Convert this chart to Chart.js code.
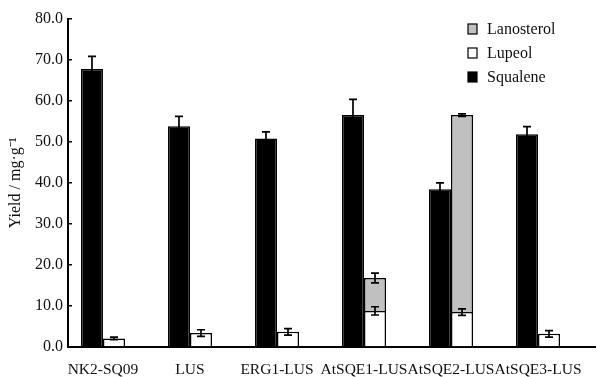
<!DOCTYPE html>
<html lang="en">
<head>
  <meta charset="UTF-8">
  <title>Yield chart</title>
  <script src="https://cdn.jsdelivr.net/npm/chart.js"></script>
  <style>
    body { margin: 0; background: #fff; }
    .chart-container { width: 597px; height: 377px; }
  </style>
</head>
<body>
  <div class="chart-container">
    <canvas id="yieldChart"></canvas>
  </div>

  <script>
    // Data (mg/g)
    const strains = ['NK2-SQ09', 'LUS', 'ERG1-LUS', 'AtSQE1-LUS', 'AtSQE2-LUS', 'AtSQE3-LUS'];
    const squalene = [67.7, 53.8, 50.8, 56.5, 38.4, 51.8];
    const squaleneErr = [3.1, 2.4, 1.6, 3.8, 1.6, 1.9];
    const lupeol = [2.1, 3.4, 3.7, 8.8, 8.5, 3.2];
    const lupeolErr = [0.3, 0.8, 0.8, 1.0, 0.8, 0.8];
    const lanosterol = [0, 0, 0, 8.0, 48.0, 0];
    const lanosterolErr = [0, 0, 0, 1.2, 0.3, 0];
    const yTicks = [0, 10, 20, 30, 40, 50, 60, 70, 80];

    const FONT = "'Liberation Serif', 'Times New Roman', serif";

    const toPoints = arr => arr.map((v, i) => ({ x: i, y: v }));

    // Error bars drawn on top of the bars
    const errorBars = {
      id: 'errorBars',
      afterDatasetsDraw(chart) {
        const ctx = chart.ctx;
        const y = chart.scales.y;
        const unit = Math.abs(y.getPixelForValue(0) - y.getPixelForValue(1));
        ctx.save();
        ctx.strokeStyle = '#000';
        ctx.lineWidth = 1.7;
        chart.data.datasets.forEach((ds, di) => {
          const meta = chart.getDatasetMeta(di);
          meta.data.forEach((bar, i) => {
            const err = ds.errors[i];
            if (!err || !ds.data[i].y) return;
            const d = err * unit;
            const cap = 4;
            ctx.beginPath();
            ctx.moveTo(bar.x, bar.y - d);
            ctx.lineTo(bar.x, bar.y + d);
            ctx.moveTo(bar.x - cap, bar.y - d);
            ctx.lineTo(bar.x + cap, bar.y - d);
            ctx.moveTo(bar.x - cap, bar.y + d);
            ctx.lineTo(bar.x + cap, bar.y + d);
            ctx.stroke();
          });
        });
        ctx.restore();
      }
    };

    // Vertical legend at the top right, reversed order
    const boxLegend = {
      id: 'boxLegend',
      afterDraw(chart) {
        const ctx = chart.ctx;
        const items = chart.data.datasets.slice().reverse();
        ctx.save();
        ctx.font = '16px ' + FONT;
        ctx.textBaseline = 'middle';
        items.forEach((ds, k) => {
          const cy = 29 + k * 24;
          ctx.fillStyle = ds.backgroundColor;
          ctx.fillRect(468, cy - 5, 9, 10);
          ctx.strokeStyle = '#000';
          ctx.lineWidth = 1.2;
          ctx.strokeRect(468, cy - 5, 9, 10);
          ctx.fillStyle = '#111';
          ctx.fillText(ds.label, 487, cy + 1);
        });
        ctx.restore();
      }
    };

    const ctx = document.getElementById('yieldChart').getContext('2d');
    new Chart(ctx, {
      type: 'bar',
      data: {
        datasets: [
          {
            label: 'Squalene',
            data: toPoints(squalene),
            errors: squaleneErr,
            stack: 'sq',
            backgroundColor: '#000',
            borderColor: '#000',
            borderWidth: 1.5
          },
          {
            label: 'Lupeol',
            data: toPoints(lupeol),
            errors: lupeolErr,
            stack: 'tri',
            backgroundColor: '#fff',
            borderColor: '#000',
            borderWidth: 1.5
          },
          {
            label: 'Lanosterol',
            data: toPoints(lanosterol),
            errors: lanosterolErr,
            stack: 'tri',
            backgroundColor: '#c0c0c0',
            borderColor: '#000',
            borderWidth: 1.5
          }
        ]
      },
      options: {
        responsive: true,
        maintainAspectRatio: false,
        animation: false,
        categoryPercentage: 0.506,
        barPercentage: 1,
        layout: { padding: { left: 4, right: 2, top: 16, bottom: 0 } },
        plugins: {
          legend: { display: false },
          tooltip: { enabled: false }
        },
        scales: {
          x: {
            type: 'linear',
            offset: false,
            min: -0.402,
            max: 5.655,
            afterBuildTicks: s => {
              s.ticks = s.ticks.filter(t => Number.isInteger(t.value) && t.value >= 0 && t.value < strains.length);
            },
            afterFit: s => { s.height = 30; },
            grid: { display: false, offset: false },
            border: { display: true, color: '#000', width: 2 },
            ticks: {
              stepSize: 1,
              includeBounds: false,
              autoSkip: false,
              maxRotation: 0,
              minRotation: 0,
              padding: 6,
              color: '#111',
              font: { family: FONT, size: 15.5 },
              callback: v => strains[v]
            }
          },
          y: {
            stacked: true,
            min: 0,
            max: 80,
            afterBuildTicks: s => { s.ticks = yTicks.map(v => ({ value: v })); },
            afterFit: s => { s.width = 64; },
            grid: {
              drawOnChartArea: false,
              tickLength: -4,
              color: '#000',
              lineWidth: 1.5
            },
            border: { display: true, color: '#000', width: 2 },
            ticks: {
              padding: 9,
              color: '#111',
              font: { family: FONT, size: 16 },
              callback: v => v.toFixed(1)
            },
            title: {
              display: true,
              text: 'Yield / mg·g⁻¹',
              color: '#111',
              font: { family: FONT, size: 16 },
              padding: { top: 2, bottom: 0 }
            }
          }
        }
      },
      plugins: [errorBars, boxLegend]
    });
  </script>
</body>
</html>
